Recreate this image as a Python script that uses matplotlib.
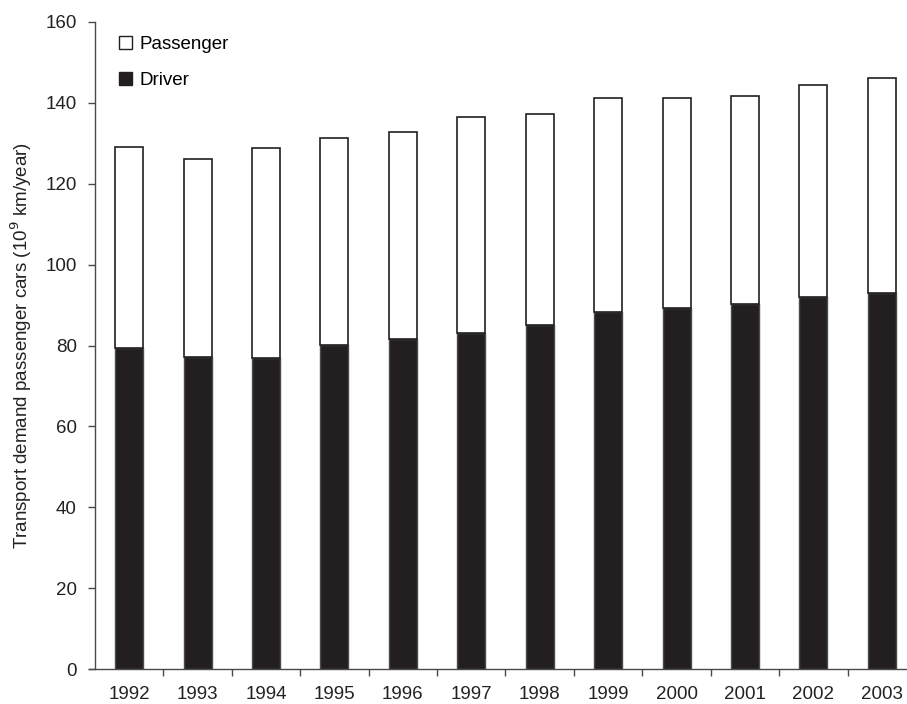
import numpy as np
import matplotlib
matplotlib.use("Agg")
from matplotlib import pyplot as plt
from matplotlib.patches import Patch

plt.rcParams["font.family"] = ["Liberation Sans", "DejaVu Sans"]

years = ["1992", "1993", "1994", "1995", "1996", "1997",
         "1998", "1999", "2000", "2001", "2002", "2003"]
total = [129.1, 126.1, 128.8, 131.4, 132.8, 136.4,
         137.2, 141.3, 141.1, 141.7, 144.3, 146.1]
driver = [79.3, 77.1, 76.9, 80.2, 81.5, 83.2,
          85.1, 88.4, 89.2, 90.3, 92.0, 93.0]
passenger = [t - d for t, d in zip(total, driver)]

dark = "#231f20"
edge = "#4a4a4a"

fig = plt.figure(figsize=(9.07, 7.04), dpi=100)
ax = fig.add_axes([95 / 907, 1 - 669 / 704, 1 - 95 / 907, (669 - 22) / 704])

x = np.arange(len(years))
w = 0.41
ax.bar(x, driver, w, color=dark, edgecolor=edge, linewidth=1.0)
ax.bar(x, passenger, w, bottom=driver, color="white", edgecolor=dark, linewidth=1.2)

xmax = 11.5 - 9 / 68.45
ax.set_ylim(0, 160)
ax.set_xlim(-0.5, xmax)
ax.set_yticks(range(0, 161, 20))
ax.set_xticks(x)
ax.set_xticklabels(years)
ax.set_xticks(np.arange(0.5, 11.5, 1.0), minor=True)
ax.tick_params(axis="x", which="major", length=0, pad=12, labelsize=13.5, colors="#222222")
ax.tick_params(axis="x", which="minor", length=5, width=1.0, color=edge, direction="out")
ax.tick_params(axis="y", length=5, width=1.0, color=edge, direction="out", pad=8,
               labelsize=13.5, labelcolor="#222222")

for s in ["top", "right"]:
    ax.spines[s].set_visible(False)
for s in ["left", "bottom"]:
    ax.spines[s].set_color(edge)
    ax.spines[s].set_linewidth(1.0)
ax.spines["bottom"].set_bounds(-0.5 - 6 / 68.45, xmax)

ax.set_ylabel("Transport demand passenger cars (10$^9$ km/year)", fontsize=13.5,
              color="#222222", labelpad=8)

handles = [Patch(facecolor="white", edgecolor=dark, linewidth=1.0),
           Patch(facecolor=dark, edgecolor=dark, linewidth=1.0)]
ax.legend(handles, ["Passenger", "Driver"], loc="upper left", frameon=False,
          fontsize=13.5, handlelength=0.7, handleheight=0.7, handletextpad=0.4,
          labelspacing=1.0, bbox_to_anchor=(0.02, 0.99), borderaxespad=0)

fig.savefig("out.png", dpi=100)
